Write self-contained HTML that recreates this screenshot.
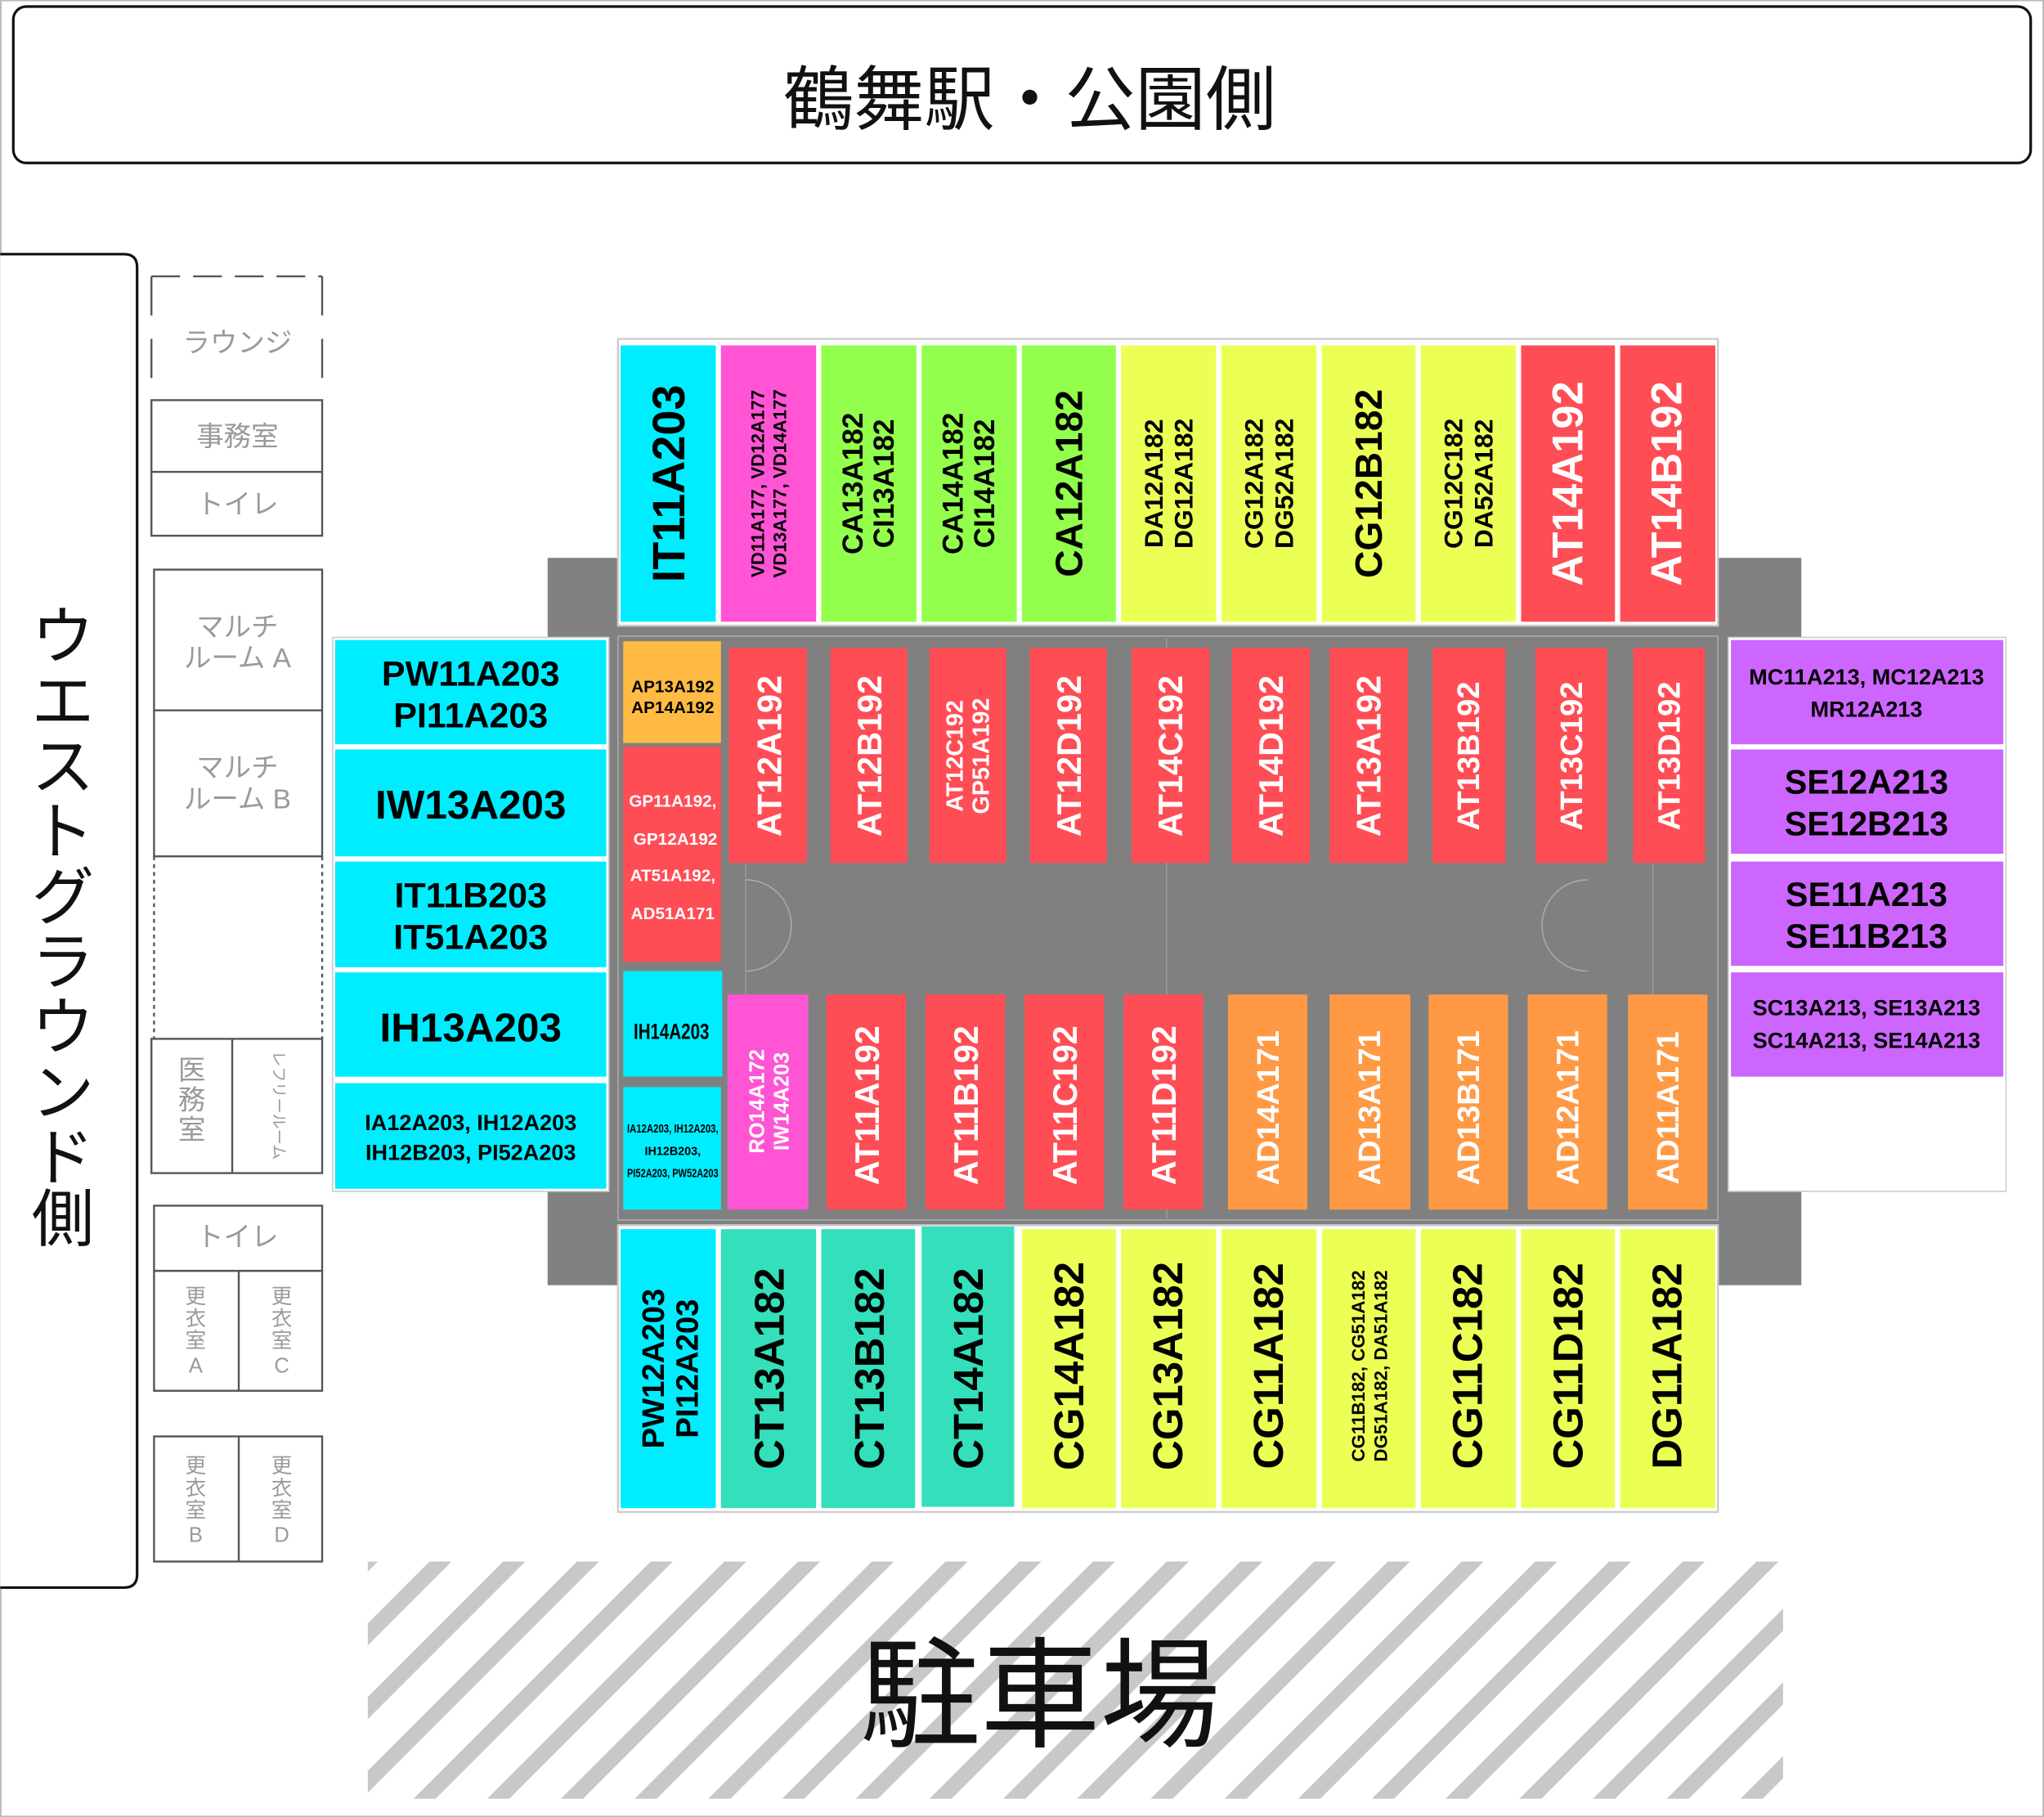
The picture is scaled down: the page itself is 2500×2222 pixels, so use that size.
<!DOCTYPE html>
<html><head><meta charset="utf-8"><style>
html,body{margin:0;padding:0;background:#fff;width:2500px;height:2222px;overflow:hidden}
svg{display:block}
.b{font-family:"Liberation Sans","Noto Sans CJK JP",sans-serif;font-weight:bold}
.j{font-family:"Liberation Sans","Noto Sans CJK JP",sans-serif}
.g{fill:#9a9a9a;font-size:21px}
</style></head><body>
<svg width="2500" height="2222" viewBox="0 0 1568 1394" xmlns="http://www.w3.org/2000/svg">
<defs>
<pattern id="h" patternUnits="userSpaceOnUse" width="40" height="40" patternTransform="rotate(45)">
<rect x="0" y="0" width="12" height="40" fill="#c8c8c8"/>
</pattern>
</defs>
<rect width="1568" height="1394" fill="#fff" stroke="#bbb" stroke-width="2"/>
<!-- header -->
<rect x="10" y="5" width="1548" height="120" rx="10" fill="#fff" stroke="#111" stroke-width="2"/>
<text x="790" y="95" class="j" font-size="54" text-anchor="middle" fill="#111">鶴舞駅・公園側</text>
<!-- left side -->
<path d="M0 195 H95 Q105 195 105 205 V1208 Q105 1218 95 1218 H0" fill="#fff" stroke="#111" stroke-width="2"/>
<g class="j" font-size="48" fill="#111" text-anchor="middle">
<text x="48" y="505">ウ</text><text x="48" y="555">エ</text><text x="48" y="605">ス</text><text x="48" y="655">ト</text><text x="48" y="705">グ</text><text x="48" y="755">ラ</text><text x="48" y="805">ウ</text><text x="48" y="855">ン</text><text x="48" y="905">ド</text><text x="48" y="952">側</text>
</g>
<!-- rooms -->
<g fill="none" stroke="#555" stroke-width="1.5">
<path d="M116 212 H247" stroke-dasharray="22 10"/>
<path d="M116 212 V307 M247 212 V307" stroke-dasharray="30 18"/>
<rect x="116" y="307" width="131" height="104"/>
<path d="M116 362 H247"/>
<rect x="118" y="437" width="129" height="220"/>
<path d="M118 545 H247"/>
<path d="M118 657 V797 M247 657 V797" stroke-dasharray="3 3"/>
<rect x="116" y="797" width="131" height="103"/>
<path d="M178 797 V900"/>
<rect x="118" y="925" width="129" height="142"/>
<path d="M118 975 H247 M183 975 V1067"/>
<rect x="118" y="1102" width="129" height="96"/>
<path d="M183 1102 V1198"/>
</g>
<g class="j g" text-anchor="middle">
<text x="182" y="270">ラウンジ</text>
<text x="182" y="342">事務室</text>
<text x="182" y="394">トイレ</text>
<text x="182" y="488">マルチ</text>
<text x="182" y="512">ルーム A</text>
<text x="182" y="596">マルチ</text>
<text x="182" y="620">ルーム B</text>
<text x="147" y="828">医</text><text x="147" y="851">務</text><text x="147" y="874">室</text>
<text x="182" y="956">トイレ</text>
<g font-size="16"><text x="150" y="1000">更</text><text x="150" y="1017">衣</text><text x="150" y="1034">室</text><text x="150" y="1053">A</text>
<text x="216" y="1000">更</text><text x="216" y="1017">衣</text><text x="216" y="1034">室</text><text x="216" y="1053">C</text>
<text x="150" y="1130">更</text><text x="150" y="1147">衣</text><text x="150" y="1164">室</text><text x="150" y="1183">B</text>
<text x="216" y="1130">更</text><text x="216" y="1147">衣</text><text x="216" y="1164">室</text><text x="216" y="1183">D</text></g>
<text x="213" y="848" font-size="12" transform="rotate(90 213 848)" dominant-baseline="central">レフリールーム</text>
</g>
<!-- stadium gray -->
<rect x="420" y="428" width="962" height="558" fill="#808080"/>
<rect x="474" y="260" width="844" height="220" fill="#fff" stroke="#ccc" stroke-width="1.5"/>
<rect x="474" y="488" width="844" height="448" fill="#808080" stroke="#aaa" stroke-width="1"/>
<rect x="474" y="940" width="844" height="220" fill="#fff" stroke="#ccc" stroke-width="1.5"/>
<path d="M895 490 V935 M572 662 V763 M1268 662 V763" stroke="#999" stroke-width="1" fill="none"/>
<path d="M572 675 A35 35 0 0 1 572 745 M1218 675 A35 35 0 0 0 1218 745" stroke="#aaa" stroke-width="1" fill="none"/>
<!-- side blocks -->
<rect x="255" y="489" width="212" height="425" fill="#fff" stroke="#ccc"/>
<rect x="1326" y="489" width="213" height="425" fill="#fff" stroke="#ccc"/>
<g fill="#00ecff">
<rect x="257" y="491" width="208" height="80"/><rect x="257" y="575" width="208" height="82"/>
<rect x="257" y="661" width="208" height="81"/><rect x="257" y="746" width="208" height="80"/>
<rect x="257" y="831" width="208" height="81"/>
</g>
<g fill="#cc66ff">
<rect x="1328" y="491" width="209" height="80"/><rect x="1328" y="575" width="209" height="80"/>
<rect x="1328" y="661" width="209" height="80"/><rect x="1328" y="746" width="209" height="80"/>
</g>
<g class="b" text-anchor="middle" fill="#000">
<text x="361" y="526" font-size="27">PW11A203</text><text x="361" y="558" font-size="27">PI11A203</text>
<text x="361" y="628" font-size="31">IW13A203</text>
<text x="361" y="696" font-size="27">IT11B203</text><text x="361" y="728" font-size="27">IT51A203</text>
<text x="361" y="799" font-size="31">IH13A203</text>
<text x="361" y="867" font-size="17">IA12A203, IH12A203</text><text x="361" y="890" font-size="17">IH12B203, PI52A203</text>
<text x="1432" y="525" font-size="17">MC11A213, MC12A213</text><text x="1432" y="550" font-size="17">MR12A213</text>
<text x="1432" y="609" font-size="26">SE12A213</text><text x="1432" y="641" font-size="26">SE12B213</text>
<text x="1432" y="695" font-size="26">SE11A213</text><text x="1432" y="727" font-size="26">SE11B213</text>
<text x="1432" y="779" font-size="17">SC13A213, SE13A213</text><text x="1432" y="804" font-size="17">SC14A213, SE14A213</text>
</g>
<!-- top stand -->
<g>
<rect x="476" y="265" width="73" height="212" fill="#00ecff"/>
<rect x="553" y="265" width="73" height="212" fill="#ff55d5"/>
<rect x="630" y="265" width="73" height="212" fill="#92ff4c"/>
<rect x="707" y="265" width="73" height="212" fill="#92ff4c"/>
<rect x="784" y="265" width="72" height="212" fill="#92ff4c"/>
<rect x="860" y="265" width="73" height="212" fill="#ecff55"/>
<rect x="937" y="265" width="73" height="212" fill="#ecff55"/>
<rect x="1014" y="265" width="72" height="212" fill="#ecff55"/>
<rect x="1090" y="265" width="73" height="212" fill="#ecff55"/>
<rect x="1167" y="265" width="72" height="212" fill="#ff4d55"/>
<rect x="1243" y="265" width="73" height="212" fill="#ff4d55"/>
</g>
<g class="b" text-anchor="middle" dominant-baseline="central" fill="#000">
<text transform="translate(513 371) rotate(-90)" font-size="35">IT11A203</text>
<text transform="translate(589 371) rotate(-90)" font-size="14"><tspan x="0" dy="-8">VD11A177, VD12A177</tspan><tspan x="0" dy="17">VD13A177, VD14A177</tspan></text>
<text transform="translate(666 371) rotate(-90)" font-size="22"><tspan x="0" dy="-12">CA13A182</tspan><tspan x="0" dy="24">CI13A182</tspan></text>
<text transform="translate(743 371) rotate(-90)" font-size="22"><tspan x="0" dy="-12">CA14A182</tspan><tspan x="0" dy="24">CI14A182</tspan></text>
<text transform="translate(820 371) rotate(-90)" font-size="29">CA12A182</text>
<text transform="translate(896 371) rotate(-90)" font-size="20"><tspan x="0" dy="-11">DA12A182</tspan><tspan x="0" dy="23">DG12A182</tspan></text>
<text transform="translate(973 371) rotate(-90)" font-size="20"><tspan x="0" dy="-11">CG12A182</tspan><tspan x="0" dy="23">DG52A182</tspan></text>
<text transform="translate(1050 371) rotate(-90)" font-size="29">CG12B182</text>
<text transform="translate(1126 371) rotate(-90)" font-size="20"><tspan x="0" dy="-11">CG12C182</tspan><tspan x="0" dy="23">DA52A182</tspan></text>
<text transform="translate(1203 371) rotate(-90)" font-size="33" fill="#fff">AT14A192</text>
<text transform="translate(1279 371) rotate(-90)" font-size="33" fill="#fff">AT14B192</text>
</g>
<!-- field upper row -->
<rect x="478" y="492" width="75" height="78" fill="#ffbb44"/>
<rect x="478" y="573" width="75" height="165" fill="#ff4d55"/>
<g fill="#ff4d55">
<rect x="559" y="497" width="60" height="165"/><rect x="637" y="497" width="59" height="165"/>
<rect x="713" y="497" width="59" height="165"/><rect x="790" y="497" width="59" height="165"/>
<rect x="868" y="497" width="60" height="165"/><rect x="945" y="497" width="60" height="165"/>
<rect x="1020" y="497" width="60" height="165"/><rect x="1099" y="497" width="56" height="165"/>
<rect x="1178" y="497" width="55" height="165"/><rect x="1253" y="497" width="55" height="165"/>
</g>
<g class="b" text-anchor="middle" fill="#000">
<text x="516" y="531" font-size="13">AP13A192</text><text x="516" y="547" font-size="13">AP14A192</text>
</g>
<g class="b" text-anchor="middle" fill="#fff" font-size="13">
<text x="516" y="619">GP11A192,</text><text x="518" y="648">GP12A192</text>
<text x="516" y="676">AT51A192,</text><text x="516" y="705">AD51A171</text>
</g>
<g class="b" text-anchor="middle" dominant-baseline="central" fill="#fff">
<text transform="translate(590 580) rotate(-90)" font-size="26">AT12A192</text>
<text transform="translate(667 580) rotate(-90)" font-size="26">AT12B192</text>
<text transform="translate(743 580) rotate(-90)" font-size="18"><tspan x="0" dy="-10">AT12C192</tspan><tspan x="0" dy="20">GP51A192</tspan></text>
<text transform="translate(820 580) rotate(-90)" font-size="26">AT12D192</text>
<text transform="translate(898 580) rotate(-90)" font-size="26">AT14C192</text>
<text transform="translate(975 580) rotate(-90)" font-size="26">AT14D192</text>
<text transform="translate(1050 580) rotate(-90)" font-size="26">AT13A192</text>
<text transform="translate(1127 580) rotate(-90)" font-size="24">AT13B192</text>
<text transform="translate(1206 580) rotate(-90)" font-size="24">AT13C192</text>
<text transform="translate(1281 580) rotate(-90)" font-size="24">AT13D192</text>
</g>
<!-- field lower row -->
<rect x="478" y="745" width="76" height="81" fill="#00ecff"/>
<rect x="478" y="834" width="75" height="94" fill="#00ecff"/>
<rect x="558" y="763" width="62" height="165" fill="#ff55d5"/>
<g fill="#ff4d55">
<rect x="634" y="763" width="61" height="165"/><rect x="710" y="763" width="61" height="165"/>
<rect x="786" y="763" width="61" height="165"/><rect x="862" y="763" width="61" height="165"/>
</g>
<g fill="#ff9944">
<rect x="942" y="763" width="61" height="165"/><rect x="1020" y="763" width="62" height="165"/>
<rect x="1096" y="763" width="61" height="165"/><rect x="1172" y="763" width="61" height="165"/>
<rect x="1249" y="763" width="61" height="165"/>
</g>
<g class="b" text-anchor="middle" fill="#000">
<text x="515" y="797" font-size="17" textLength="58" lengthAdjust="spacingAndGlyphs">IH14A203</text>
<text x="516" y="869" font-size="9" textLength="70" lengthAdjust="spacingAndGlyphs">IA12A203, IH12A203,</text>
<text x="516" y="886" font-size="9">IH12B203,</text>
<text x="516" y="903" font-size="9" textLength="70" lengthAdjust="spacingAndGlyphs">PI52A203, PW52A203</text>
</g>
<g class="b" text-anchor="middle" dominant-baseline="central" fill="#fff">
<text transform="translate(590 845) rotate(-90)" font-size="16"><tspan x="0" dy="-9">RO14A172</tspan><tspan x="0" dy="19">IW14A203</tspan></text>
<text transform="translate(665 848) rotate(-90)" font-size="26">AT11A192</text>
<text transform="translate(741 848) rotate(-90)" font-size="26">AT11B192</text>
<text transform="translate(817 848) rotate(-90)" font-size="26">AT11C192</text>
<text transform="translate(893 848) rotate(-90)" font-size="26">AT11D192</text>
<text transform="translate(973 850) rotate(-90)" font-size="24">AD14A171</text>
<text transform="translate(1051 850) rotate(-90)" font-size="24">AD13A171</text>
<text transform="translate(1127 850) rotate(-90)" font-size="24">AD13B171</text>
<text transform="translate(1203 850) rotate(-90)" font-size="24">AD12A171</text>
<text transform="translate(1280 850) rotate(-90)" font-size="24">AD11A171</text>
</g>
<!-- bottom stand -->
<g>
<rect x="476" y="943" width="73" height="214" fill="#00ecff"/>
<rect x="553" y="943" width="73" height="214" fill="#33e0bb"/>
<rect x="630" y="943" width="72" height="214" fill="#33e0bb"/>
<rect x="707" y="941" width="71" height="215" fill="#33e0bb"/>
<rect x="784" y="943" width="72" height="214" fill="#ecff55"/>
<rect x="860" y="943" width="73" height="214" fill="#ecff55"/>
<rect x="937" y="943" width="73" height="214" fill="#ecff55"/>
<rect x="1014" y="943" width="72" height="214" fill="#ecff55"/>
<rect x="1090" y="943" width="73" height="214" fill="#ecff55"/>
<rect x="1167" y="943" width="72" height="214" fill="#ecff55"/>
<rect x="1243" y="943" width="73" height="214" fill="#ecff55"/>
</g>
<g class="b" text-anchor="middle" dominant-baseline="central" fill="#000">
<text transform="translate(514 1050) rotate(-90)" font-size="24"><tspan x="0" dy="-13">PW12A203</tspan><tspan x="0" dy="26">PI12A203</tspan></text>
<text transform="translate(590 1050) rotate(-90)" font-size="32">CT13A182</text>
<text transform="translate(667 1050) rotate(-90)" font-size="32">CT13B182</text>
<text transform="translate(743 1050) rotate(-90)" font-size="32">CT14A182</text>
<text transform="translate(820 1048) rotate(-90)" font-size="32">CG14A182</text>
<text transform="translate(896 1048) rotate(-90)" font-size="32">CG13A182</text>
<text transform="translate(973 1048) rotate(-90)" font-size="32">CG11A182</text>
<text transform="translate(1050 1048) rotate(-90)" font-size="14"><tspan x="0" dy="-8">CG11B182, CG51A182</tspan><tspan x="0" dy="17">DG51A182, DA51A182</tspan></text>
<text transform="translate(1126 1048) rotate(-90)" font-size="32">CG11C182</text>
<text transform="translate(1203 1048) rotate(-90)" font-size="32">CG11D182</text>
<text transform="translate(1279 1048) rotate(-90)" font-size="32">DG11A182</text>
</g>
<!-- parking -->
<rect x="282" y="1198" width="1086" height="182" fill="url(#h)"/>
<text x="798" y="1333" class="j" font-size="92" text-anchor="middle" fill="#111">駐車場</text>
</svg>
</body></html>
